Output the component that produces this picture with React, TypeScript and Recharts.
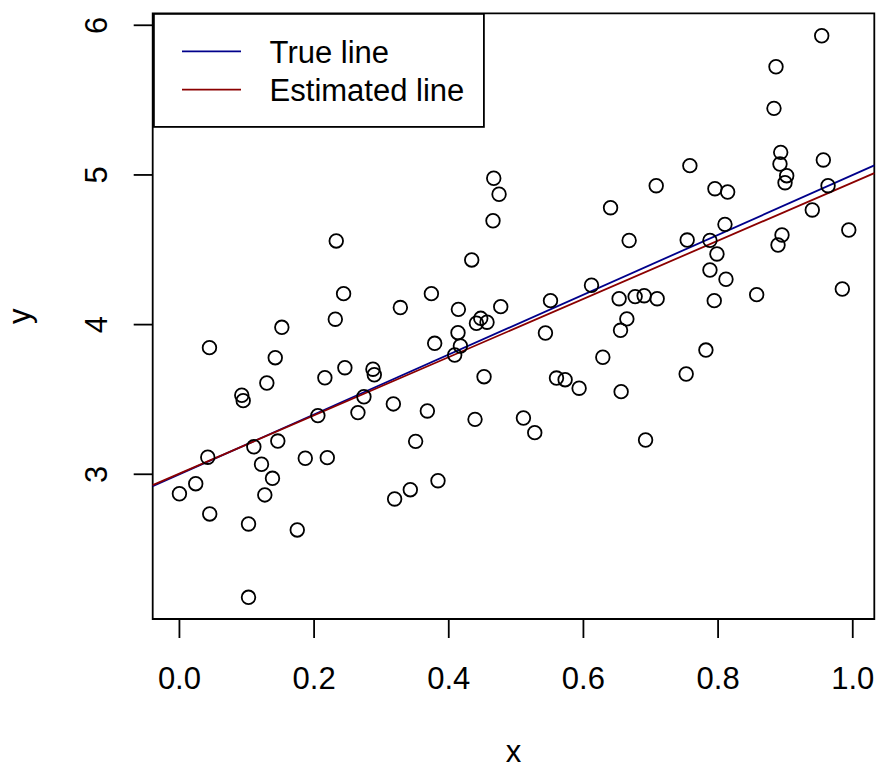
import { ScatterChart, Scatter, XAxis, YAxis, ReferenceLine, ReferenceArea, Legend } from "recharts";

// simulated sample: x values and observed y values
const xValues = [
  0.0, 0.0242, 0.0421, 0.045, 0.0446, 0.0926, 0.0947, 0.1026, 0.1026, 0.1105,
  0.1219, 0.1268, 0.1298, 0.1382, 0.1423, 0.1461, 0.1521, 0.175, 0.1869, 0.2056,
  0.216, 0.2196, 0.2315, 0.2329, 0.2438, 0.2457, 0.2651, 0.274, 0.2874, 0.2894,
  0.3177, 0.3196, 0.3281, 0.3429, 0.3508, 0.3682, 0.3742, 0.3791, 0.384, 0.4088,
  0.4137, 0.4143, 0.4173, 0.4341, 0.439, 0.4411, 0.4475, 0.4568, 0.4524, 0.4657,
  0.4668, 0.4747, 0.4772, 0.5109, 0.5277, 0.5436, 0.5511, 0.56, 0.5728, 0.5936,
  0.612, 0.6288, 0.6403, 0.653, 0.6551, 0.656, 0.6645, 0.6679, 0.6768, 0.6902,
  0.6923, 0.7081, 0.7095, 0.7526, 0.7541, 0.7581, 0.7819, 0.7879, 0.7879, 0.7943,
  0.7953, 0.7983, 0.8102, 0.8117, 0.8142, 0.8573, 0.883, 0.886, 0.889, 0.893,
  0.8919, 0.8949, 0.8994, 0.9019, 0.9399, 0.9539, 0.9563, 0.9633, 0.9845, 0.9941,
];
const yValues = [
  2.87, 2.937, 3.114, 2.735, 3.846, 3.528, 3.492, 2.668, 2.178, 3.184,
  3.067, 2.862, 3.61, 2.973, 3.779, 3.222, 3.982, 2.628, 3.107, 3.392,
  3.645, 3.111, 4.036, 4.559, 4.207, 3.712, 3.412, 3.518, 3.702, 3.665,
  3.47, 2.835, 4.114, 2.897, 3.22, 3.423, 4.207, 3.875, 2.957, 3.797,
  3.946, 4.102, 3.857, 4.432, 3.367, 4.009, 4.042, 4.016, 3.652, 4.694,
  4.978, 4.871, 4.12, 3.376, 3.278, 3.944, 4.16, 3.643, 3.632, 3.575,
  4.263, 3.782, 4.781, 4.173, 3.962, 3.552, 4.038, 4.562, 4.187, 4.193,
  3.229, 4.928, 4.173, 3.67, 4.565, 5.062, 3.83, 4.563, 4.365, 4.16,
  4.908, 4.472, 4.67, 4.303, 4.886, 4.2, 5.445, 5.723, 4.532, 5.151,
  5.073, 4.599, 4.948, 4.995, 4.766, 5.93, 5.1, 4.928, 4.238, 4.632,
];

const xTicks = [0, 0.2, 0.4, 0.6, 0.8, 1.0];
const yTicks = [3, 4, 5, 6];

// intercept, slope
const trueCoef = [3, 2];
const estCoef = [3.005, 1.945];

const legendLabels = ["True line", "Estimated line"];
const legendColors = ["#00008B", "#8B0000"];

const xDomain = [-0.0397, 1.032];
const yDomain = [2.033, 6.08];

const points = xValues.map((x, i) => ({ x, y: yValues[i] }));

const FONT = "'Liberation Sans', Arial, Helvetica, sans-serif";
const FS = 31;
const LW = 1.8;

function abline(coef: number[]) {
  return [
    { x: xDomain[0], y: coef[0] + coef[1] * xDomain[0] },
    { x: xDomain[1], y: coef[0] + coef[1] * xDomain[1] },
  ];
}

const Circle = (props: any) => (
  <circle cx={props.cx} cy={props.cy} r={6.8} fill="none" stroke="#000" strokeWidth={LW} />
);

const XTick = (props: any) => (
  <text x={props.x} y={props.y + 51} textAnchor="middle" fontFamily={FONT} fontSize={FS} fill="#000">
    {props.payload.value.toFixed(1)}
  </text>
);

const YTick = (props: any) => (
  <text
    x={0}
    y={0}
    transform={`translate(${props.x - 26.7}, ${props.y}) rotate(-90)`}
    textAnchor="middle"
    fontFamily={FONT}
    fontSize={FS}
    fill="#000"
  >
    {props.payload.value}
  </text>
);

const LegendBox = () => (
  <svg width={332} height={115} style={{ display: "block" }}>
    <rect x={0.9} y={0.9} width={330} height={113} fill="#fff" stroke="#000" strokeWidth={LW} />
    {legendLabels.map((label, i) => (
      <g key={label}>
        <line x1={29} x2={88} y1={38.4 + i * 38.3} y2={38.4 + i * 38.3} stroke={legendColors[i]} strokeWidth={LW} />
        <text x={116.6} y={50 + i * 38.4} fontFamily={FONT} fontSize={FS} fill="#000">
          {label}
        </text>
      </g>
    ))}
  </svg>
);

export default function App() {
  return (
    <div style={{ position: "absolute", left: 0, top: 0, background: "#fff" }}>
      <ScatterChart width={880} height={768} margin={{ top: 13.3, right: 5.7, bottom: 0, left: 0 }}>
        <XAxis
          dataKey="x"
          type="number"
          domain={xDomain}
          ticks={xTicks}
          allowDataOverflow
          height={149}
          axisLine={false}
          tickSize={19}
          tickMargin={0}
          tickLine={{ stroke: "#000", strokeWidth: LW }}
          tick={<XTick />}
          label={{
            content: (p: any) => (
              <text
                x={p.viewBox.x + p.viewBox.width / 2}
                y={p.viewBox.y + 143}
                textAnchor="middle"
                fontFamily={FONT}
                fontSize={FS}
                fill="#000"
              >
                x
              </text>
            ),
          }}
        />
        <YAxis
          dataKey="y"
          type="number"
          domain={yDomain}
          ticks={yTicks}
          allowDataOverflow
          width={152.7}
          axisLine={false}
          tickSize={19}
          tickMargin={0}
          tickLine={{ stroke: "#000", strokeWidth: LW }}
          tick={<YTick />}
          label={{
            content: (p: any) => (
              <text
                x={0}
                y={0}
                transform={`translate(30, ${p.viewBox.y + p.viewBox.height / 2}) rotate(-90)`}
                textAnchor="middle"
                fontFamily={FONT}
                fontSize={FS}
                fill="#000"
              >
                y
              </text>
            ),
          }}
        />
        <Scatter data={points} shape={<Circle />} isAnimationActive={false} />
        <ReferenceLine segment={abline(trueCoef)} stroke={legendColors[0]} strokeWidth={LW} />
        <ReferenceLine segment={abline(estCoef)} stroke={legendColors[1]} strokeWidth={LW} />
        <ReferenceArea
          x1={xDomain[0]}
          x2={xDomain[1]}
          y1={yDomain[0]}
          y2={yDomain[1]}
          fill="none"
          fillOpacity={0}
          stroke="#000"
          strokeWidth={LW}
        />
        <Legend
          layout="vertical"
          align="center"
          verticalAlign="middle"
          content={<LegendBox />}
          wrapperStyle={{ left: 152.7, top: 13.3, width: 332, height: 115, margin: 0, padding: 0 }}
        />
      </ScatterChart>
    </div>
  );
}
